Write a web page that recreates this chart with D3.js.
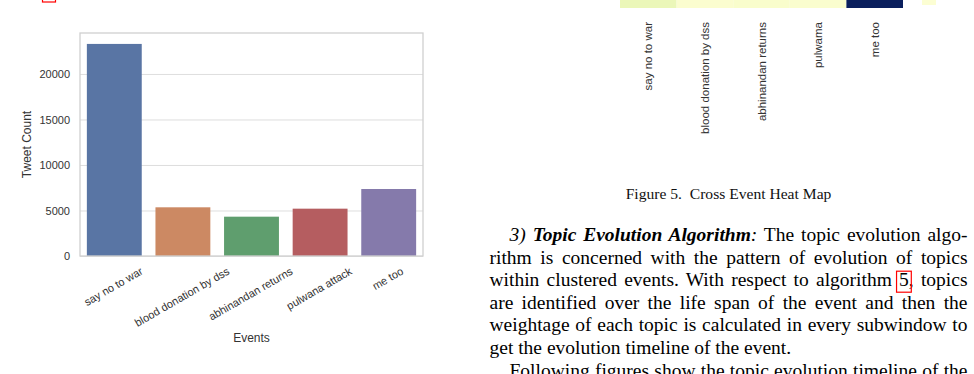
<!DOCTYPE html>
<html>
<head>
<meta charset="utf-8">
<script src="https://cdn.jsdelivr.net/npm/d3@7"></script>
<style>
  body { margin: 0; background: #fff; }
  svg { display: block; }
</style>
</head>
<body>
<div id="chartContainer"></div>
<script>
// bar chart data
var events = ["say no to war", "blood donation by dss", "abhinandan returns", "pulwana attack", "me too"];
var tweetCounts = [23300, 5350, 4320, 5200, 7360];
var yTicks = [0, 5000, 10000, 15000, 20000];
var barColors = ["#5975a4", "#cc8963", "#5f9e6e", "#b55d60", "#857aab"];

// heat map fragment (last row only visible)
var heatEvents = ["say no to war", "blood donation by dss", "abhinandan returns", "pulwama", "me too"];
var heatRow = [0.12, 0.03, 0.04, 0.035, 0.99];

// page text
var caption = "Figure 5.  Cross Event Heat Map";
var paraLines = [
  "rithm is concerned with the pattern of evolution of topics",
  "within clustered events. With respect to algorithm ",
  "are identified over the life span of the event and then the",
  "weightage of each topic is calculated in every subwindow to",
  "get the evolution timeline of the event."
];
var nextLine = "Following figures show the topic evolution timeline of the";

var W = 974, H = 374;
var svg = d3.select("#chartContainer").append("svg")
  .attr("width", W)
  .attr("height", H);

var vis = svg.append("g");

var PLOT = { left: 80, right: 423, top: 33, bottom: 256 };

var xRange = d3.scaleBand()
  .domain(events)
  .range([PLOT.left, PLOT.right])
  .paddingInner(0.2)
  .paddingOuter(0.1);

var yRange = d3.scaleLinear()
  .domain([0, 24500])
  .range([PLOT.bottom, PLOT.top]);

// grid
vis.append("g")
  .attr("transform", "translate(" + PLOT.left + ",0)")
  .call(d3.axisLeft(yRange).tickValues(yTicks).tickSize(-(PLOT.right - PLOT.left)).tickFormat(""))
  .call(function (g) { g.select(".domain").remove(); })
  .selectAll("line")
  .attr("stroke", "#dedede")
  .attr("stroke-width", 1);

// bars
vis.selectAll(".bar")
  .data(tweetCounts)
  .enter().append("rect")
  .attr("class", "bar")
  .attr("x", function (d, i) { return xRange(events[i]); })
  .attr("width", xRange.bandwidth())
  .attr("y", function (d) { return yRange(d); })
  .attr("height", function (d) { return yRange(0) - yRange(d); })
  .attr("fill", function (d, i) { return barColors[i]; });

// frame
vis.append("rect")
  .attr("x", PLOT.left)
  .attr("y", PLOT.top)
  .attr("width", PLOT.right - PLOT.left)
  .attr("height", PLOT.bottom - PLOT.top)
  .attr("fill", "none")
  .attr("stroke", "#d0d0d0")
  .attr("stroke-width", 1.3);

// y axis labels
var yAxis = vis.append("g")
  .attr("transform", "translate(" + PLOT.left + ",0)")
  .call(d3.axisLeft(yRange).tickValues(yTicks).tickSize(0).tickPadding(10).tickFormat(d3.format("d")));
yAxis.select(".domain").remove();
yAxis.selectAll("text")
  .style("font-family", "'Liberation Sans', Arial, sans-serif")
  .style("font-size", "11px")
  .attr("fill", "#333");

// x axis labels, rotated 30 deg, centred under each bar
var xAxis = vis.append("g")
  .attr("transform", "translate(0," + PLOT.bottom + ")")
  .call(d3.axisBottom(xRange).tickSize(0));
xAxis.select(".domain").remove();
xAxis.selectAll("text")
  .style("font-family", "'Liberation Sans', Arial, sans-serif")
  .style("font-size", "11px")
  .attr("fill", "#333")
  .attr("text-anchor", "middle")
  .attr("y", 0)
  .attr("dy", null)
  .attr("dominant-baseline", "central")
  .attr("transform", function () {
    var w = this.getComputedTextLength();
    return "translate(-1," + (14 + w * 0.25) + ") rotate(-30)";
  });

vis.append("text")
  .attr("transform", "translate(31," + ((PLOT.top + PLOT.bottom) / 2) + ") rotate(-90)")
  .attr("text-anchor", "middle")
  .style("font-family", "'Liberation Sans', Arial, sans-serif")
  .style("font-size", "12px")
  .attr("fill", "#333")
  .text("Tweet Count");

vis.append("text")
  .attr("x", (PLOT.left + PLOT.right) / 2)
  .attr("y", 342)
  .attr("text-anchor", "middle")
  .style("font-family", "'Liberation Sans', Arial, sans-serif")
  .style("font-size", "12px")
  .attr("fill", "#333")
  .text("Events");

// link box at the very top left (clipped)
vis.append("rect")
  .attr("x", 42.5).attr("y", -20)
  .attr("width", 13).attr("height", 22)
  .attr("fill", "none")
  .attr("stroke", "#ff0000")
  .attr("stroke-width", 1.2);

// ---- heat map fragment ----
var heat = svg.append("g");
var xHeat = d3.scaleBand().domain(heatEvents).range([620, 903]);
var colour = d3.scaleSequential(d3.interpolateYlGnBu).domain([0, 1]);

heat.selectAll(".cell")
  .data(heatRow)
  .enter().append("rect")
  .attr("class", "cell")
  .attr("x", function (d, i) { return xHeat(heatEvents[i]); })
  .attr("width", xHeat.bandwidth())
  .attr("y", -40)
  .attr("height", 48)
  .attr("fill", function (d) { return colour(d); });

// bottom of the colour bar
heat.append("rect")
  .attr("x", 922).attr("y", -40)
  .attr("width", 14).attr("height", 45)
  .attr("fill", colour(0.02));

heat.selectAll(".hlabel")
  .data(heatEvents)
  .enter().append("text")
  .attr("class", "hlabel")
  .attr("transform", function (d) { return "translate(" + (xHeat(d) + xHeat.bandwidth() / 2) + ",22) rotate(-90)"; })
  .attr("text-anchor", "end")
  .attr("dominant-baseline", "central")
  .style("font-family", "'Liberation Sans', Arial, sans-serif")
  .style("font-size", "11.5px")
  .attr("fill", "#333")
  .text(function (d) { return d; });

// ---- text column ----
var serif = "'Liberation Serif', 'Times New Roman', serif";
var TXT = { left: 489.5, right: 967.5, size: 19.5, lead: 22.6, first: 241 };

svg.append("text")
  .attr("x", 728.5)
  .attr("y", 198.5)
  .attr("text-anchor", "middle")
  .style("font-family", serif)
  .style("font-size", "15.6px")
  .attr("fill", "#111")
  .attr("xml:space", "preserve")
  .text(caption);

function justify(t, x0) {
  var s = t.text();
  var spaces = s.split(" ").length - 1;
  var natural = t.node().getComputedTextLength();
  if (spaces > 0) t.style("word-spacing", ((TXT.right - x0 - natural) / spaces) + "px");
}

function textLine(i, x0) {
  return svg.append("text")
    .attr("x", x0)
    .attr("y", TXT.first + i * TXT.lead)
    .style("font-family", serif)
    .style("font-size", TXT.size + "px")
    .attr("fill", "#000");
}

// line 1 with run-in heading
var l1 = textLine(0, 509.5);
l1.append("tspan").style("font-style", "italic").text("3) ");
l1.append("tspan").style("font-style", "italic").style("font-weight", "bold").text("Topic Evolution Algorithm");
l1.append("tspan").style("font-style", "italic").text(":");
l1.append("tspan").text(" The topic evolution algo-");
justify(l1, 509.5);

paraLines.forEach(function (s, k) {
  var t = textLine(k + 1, TXT.left);
  if (k === 1) {
    t.append("tspan").text(s);
    var ref = t.append("tspan").text("5");
    t.append("tspan").text(", topics");
    justify(t, TXT.left);
    var ext = ref.node().getExtentOfChar(0);
    var by = TXT.first + (k + 1) * TXT.lead;
    svg.append("rect")
      .attr("x", ext.x - 2.5).attr("y", by - 15)
      .attr("width", ext.width + 5).attr("height", 21)
      .attr("fill", "none")
      .attr("stroke", "#ff0000")
      .attr("stroke-width", 1.2);
  } else {
    t.text(s);
    if (k < paraLines.length - 1) justify(t, TXT.left);
  }
});

var l7 = textLine(paraLines.length + 1, 509.5).text(nextLine);
justify(l7, 509.5);
</script>
</body>
</html>
